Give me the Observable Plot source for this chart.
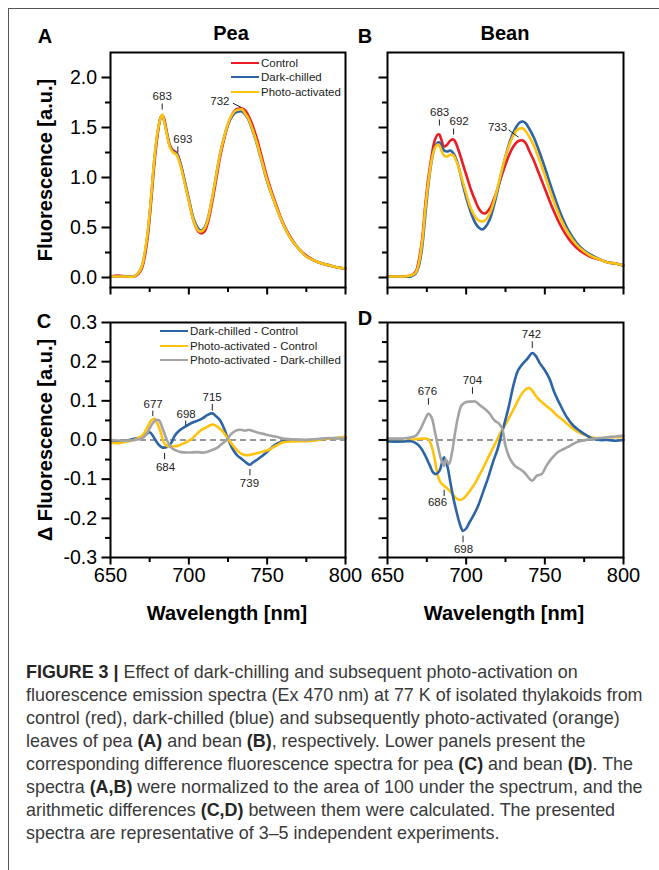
<!DOCTYPE html>
<html>
<head>
<meta charset="utf-8">
<script src="https://cdn.jsdelivr.net/npm/d3@7"></script>
<script src="https://cdn.jsdelivr.net/npm/@observablehq/plot@0.6"></script>
<style>
  html, body { margin: 0; padding: 0; background: #fff; }
  #fig { position: relative; width: 659px; height: 870px; overflow: hidden; font-family: 'Liberation Sans', Arial, Helvetica, sans-serif; color: #000; }
  .abs { position: absolute; white-space: nowrap; }
  .cap { position: absolute; left: 26px; font-size: 17.9px; color: #3a3a3a; white-space: nowrap; line-height: 23px; }
  .cap b { color: #262626; }
  .legline { position: absolute; width: 28px; height: 2.6px; }
  .legtxt { position: absolute; font-size: 11.5px; color: #222; white-space: nowrap; transform: translateY(-50%); }
  svg { overflow: visible; }
</style>
</head>
<body>
<div id="fig"></div>
<script>
// ---------- DATA ----------
const xMajor = [650, 700, 750, 800];
const xMinor = [675, 725, 775];
const yMajorAB = [0, 0.5, 1, 1.5, 2];
const yMinorAB = [0.25, 0.75, 1.25, 1.75];
const yMajorCD = [-0.3, -0.2, -0.1, 0, 0.1, 0.2, 0.3];
const yMinorCD = [-0.25, -0.15, -0.05, 0.05, 0.15, 0.25];

// wavelength grid for the raw spectra (A, B)
const wlAB = [650,655,660,665,668,670,672,674,676,678,680,682,683,684,686,688,690,692,693,695,698,700,703,706,708,710,712,715,718,720,722,725,728,730,732,734,736,738,740,743,746,750,755,760,765,770,775,780,785,790,795,800];

// Panel A - Pea
const peaControl = [0.01,0.02,0.01,0.01, 0.04,0.09,0.22,0.44,0.77,1.14,1.42,1.60, 1.62,1.60,1.45,1.32,1.27,1.25,1.22,1.12, 0.91,0.77,0.57,0.46,0.44,0.46,0.54,0.76, 1.03,1.21,1.35,1.53,1.64,1.68,1.69,1.69, 1.67,1.62,1.55,1.41,1.24,1.00,0.76,0.55, 0.40,0.29,0.22,0.17,0.14,0.12,0.10,0.09];
const peaDarkChilled = [0.01,0.01,0.01,0.01, 0.05,0.11,0.25,0.48,0.81,1.18,1.44,1.60, 1.62,1.58,1.44,1.31,1.26,1.24,1.22,1.12, 0.92,0.79,0.59,0.49,0.47,0.50,0.58,0.80, 1.07,1.24,1.37,1.53,1.62,1.65,1.66,1.66, 1.63,1.58,1.50,1.36,1.19,0.96,0.74,0.54, 0.39,0.29,0.21,0.17,0.14,0.12,0.10,0.09];
const peaPhotoActivated = [0.01,0.01,0.01,0.01, 0.05,0.11,0.26,0.49,0.82,1.19,1.45,1.60, 1.63,1.58,1.43,1.30,1.25,1.23,1.20,1.10, 0.90,0.77,0.57,0.47,0.46,0.49,0.57,0.80, 1.07,1.24,1.37,1.54,1.64,1.67,1.68,1.68, 1.64,1.59,1.51,1.37,1.20,0.97,0.74,0.54, 0.39,0.29,0.21,0.17,0.14,0.12,0.10,0.09];

// Panel B - Bean
const beanControl = [0.01,0.01,0.01,0.02, 0.06,0.18,0.38,0.72,1.00,1.21,1.37,1.43, 1.43,1.39,1.31,1.33,1.37,1.38,1.36,1.28, 1.13,1.03,0.88,0.76,0.69,0.65,0.64,0.69, 0.80,0.89,0.99,1.13,1.25,1.31,1.35,1.37, 1.37,1.34,1.27,1.17,1.05,0.89,0.69,0.52, 0.39,0.30,0.24,0.20,0.18,0.15,0.14,0.12];
const beanDarkChilled = [0.01,0.01,0.01,0.01, 0.04,0.12,0.30,0.62,0.93,1.16,1.30,1.35, 1.35,1.33,1.27,1.26,1.27,1.24,1.21,1.12, 0.92,0.80,0.65,0.54,0.50,0.48,0.50,0.58, 0.74,0.87,1.01,1.21,1.37,1.45,1.51,1.55, 1.56,1.54,1.49,1.40,1.28,1.10,0.86,0.64, 0.47,0.35,0.27,0.22,0.18,0.15,0.14,0.12];
const beanPhotoActivated = [0.01,0.01,0.01,0.02, 0.05,0.15,0.35,0.68,0.96,1.17,1.29,1.33, 1.32,1.28,1.22,1.21,1.23,1.22,1.19,1.11, 0.95,0.84,0.69,0.60,0.57,0.56,0.57,0.64, 0.78,0.90,1.03,1.21,1.35,1.42,1.47,1.49, 1.49,1.46,1.41,1.32,1.20,1.02,0.79,0.59, 0.44,0.33,0.26,0.21,0.18,0.15,0.14,0.12];

// Panel C - Pea difference spectra
const peaDiffDC_nm = [650,660,665,670,673,675,677,679,681,683,685,687,689,691,694,698,702,706,709,712,715,717,720,723,725,728,731,734,737,739,741,744,747,750,753,756,760,765,770,775,780,785,790,795,800];
const peaDiffDC = [-0.004,-0.002,0.003,0.007,0.015,0.02,0.011,-0.002,-0.013,-0.019,-0.019,-0.015,-0.006,0.011,0.024,0.035,0.044,0.05,0.056,0.064,0.068,0.062,0.05,0.024,0.003,-0.023,-0.04,-0.049,-0.059,-0.063,-0.057,-0.049,-0.04,-0.03,-0.019,-0.01,-0.003,0,0,0,0,0.002,0.004,0.005,0.006];
const peaDiffPC_nm = [650,655,660,665,670,673,676,678,680,682,684,686,688,690,693,696,699,702,705,708,711,714,716,719,722,725,728,731,734,737,740,744,748,752,756,760,765,770,775,780,785,790,795,800];
const peaDiffPC = [-0.007,-0.008,-0.004,0,0.01,0.028,0.05,0.054,0.041,0.02,-0.006,-0.015,-0.017,-0.016,-0.015,-0.01,-0.004,0.003,0.015,0.026,0.032,0.038,0.039,0.032,0.02,0.003,-0.013,-0.027,-0.036,-0.039,-0.037,-0.033,-0.029,-0.023,-0.014,-0.006,-0.004,-0.003,-0.003,-0.002,0.002,0.004,0.005,0.009];
const peaDiffPD_nm = [650,660,665,670,673,676,679,681,683,685,687,689,692,695,700,705,710,714,718,721,724,727,730,733,736,738,740,743,746,750,755,760,765,770,775,780,785,790,795,800];
const peaDiffPD = [0,-0.002,0,0.004,0.015,0.037,0.051,0.05,0.032,0.01,-0.008,-0.02,-0.027,-0.031,-0.032,-0.031,-0.032,-0.027,-0.02,-0.01,0,0.015,0.024,0.026,0.024,0.026,0.024,0.02,0.017,0.013,0.009,0.004,0.002,0.001,0,0.002,0.004,0.005,0.004,0.004];

// Panel D - Bean difference spectra
const beanDiffDC_nm = [650,660,665,668,671,674,677,679,681,683,685,686,688,690,692,694,696,698,700,702,705,708,711,714,717,720,722,724,727,730,733,736,739,742,744,747,750,753,756,760,764,768,772,776,780,785,790,795,800];
const beanDiffDC = [-0.004,-0.004,-0.003,-0.008,-0.019,-0.04,-0.066,-0.083,-0.087,-0.079,-0.053,-0.044,-0.066,-0.109,-0.151,-0.185,-0.215,-0.232,-0.226,-0.211,-0.19,-0.164,-0.13,-0.096,-0.057,-0.023,0.007,0.037,0.084,0.139,0.178,0.195,0.208,0.222,0.216,0.195,0.178,0.156,0.122,0.088,0.058,0.037,0.024,0.013,0.004,0,0,-0.002,0];
const beanDiffPC_nm = [650,660,665,670,673,676,678,680,682,684,686,688,690,692,694,696,698,700,703,706,709,712,715,718,720,722,725,728,731,734,737,740,742,745,748,751,754,758,762,766,770,774,778,782,786,790,795,800];
const beanDiffPC = [-0.002,-0.003,0,0.003,0.004,0.002,-0.015,-0.049,-0.091,-0.11,-0.117,-0.124,-0.132,-0.141,-0.15,-0.153,-0.15,-0.142,-0.126,-0.108,-0.085,-0.062,-0.036,-0.013,0.003,0.02,0.04,0.062,0.085,0.109,0.126,0.133,0.126,0.109,0.097,0.087,0.077,0.062,0.049,0.035,0.023,0.015,0.009,0.005,0.004,0.007,0.007,0.007];
const beanDiffPD_nm = [650,660,665,668,671,674,676,678,680,682,684,686,687,689,691,693,695,697,700,703,706,709,712,715,718,721,723,725,728,731,734,737,740,742,745,748,751,754,758,762,766,770,775,780,785,790,795,800];
const beanDiffPD = [0.004,0.004,0.007,0.011,0.028,0.054,0.067,0.058,0.024,-0.015,-0.049,-0.066,-0.049,-0.062,-0.032,0.02,0.062,0.088,0.097,0.098,0.098,0.088,0.079,0.067,0.05,0.041,0.028,-0.015,-0.049,-0.066,-0.074,-0.083,-0.098,-0.104,-0.091,-0.087,-0.066,-0.049,-0.032,-0.023,-0.015,-0.006,-0.001,0.003,0.005,0.007,0.009,0.011];

// Peak annotations: label, label anchor (tx, ty), leader (x1,y1)-(x2,y2), in data units
const annA = [
  {label: "683", tx: 683, ty: 1.81, x1: 683, y1: 1.68, x2: 683, y2: 1.74},
  {label: "693", tx: 696.2, ty: 1.38, x1: 693, y1: 1.25, x2: 693, y2: 1.31},
  {label: "732", tx: 719.8, ty: 1.76, x1: 728.1, y1: 1.743, x2: 733.2, y2: 1.703}
];
const annB = [
  {label: "683", tx: 683.1, ty: 1.65, x1: 683, y1: 1.52, x2: 683, y2: 1.58},
  {label: "692", tx: 695.5, ty: 1.557, x1: 692, y1: 1.43, x2: 692, y2: 1.49},
  {label: "733", tx: 719.9, ty: 1.50, x1: 726.9, y1: 1.477, x2: 733.3, y2: 1.403}
];
const annC = [
  {label: "677", tx: 677.2, ty: 0.0906, x1: 677, y1: 0.061, x2: 677, y2: 0.075},
  {label: "684", tx: 685.1, ty: -0.070, x1: 684.5, y1: -0.033, x2: 684.5, y2: -0.049},
  {label: "698", tx: 698.3, ty: 0.065, x1: 698, y1: 0.037, x2: 698, y2: 0.0496},
  {label: "715", tx: 714.9, ty: 0.109, x1: 715, y1: 0.075, x2: 715, y2: 0.092},
  {label: "739", tx: 738.7, ty: -0.111, x1: 739, y1: -0.074, x2: 739, y2: -0.090}
];
const annD = [
  {label: "742", tx: 741.5, ty: 0.270, x1: 742, y1: 0.235, x2: 742, y2: 0.252},
  {label: "704", tx: 704.0, ty: 0.152, x1: 704, y1: 0.118, x2: 704, y2: 0.135},
  {label: "676", tx: 675.4, ty: 0.124, x1: 676, y1: 0.090, x2: 676, y2: 0.107},
  {label: "686", tx: 681.8, ty: -0.160, x1: 686, y1: -0.127, x2: 686, y2: -0.143},
  {label: "698", tx: 698.3, ty: -0.279, x1: 698, y1: -0.244, x2: 698, y2: -0.261}
];

const legendAB = ["Control", "Dark-chilled", "Photo-activated"];
const legendCD = ["Dark-chilled - Control", "Photo-activated - Control", "Photo-activated - Dark-chilled"];

const RED = "#ec1c24", BLUE = "#2d64a6", YEL = "#ffc20e", GRAY = "#a3a3a3";
const FONT = "'Liberation Sans', Arial, Helvetica, sans-serif";

(function build() {
  const fig = document.getElementById("fig");
  const toRows = (nm, v) => nm.map((x, i) => ({nm: x, v: v[i]}));

  function makePanel(cfg) {
    const svg = Plot.plot({
      width: cfg.ml + cfg.w + cfg.mr,
      height: cfg.mt + cfg.h + cfg.mb,
      marginLeft: cfg.ml, marginRight: cfg.mr, marginTop: cfg.mt, marginBottom: cfg.mb,
      style: {fontFamily: FONT, color: "#000", background: "transparent", overflow: "visible"},
      x: {domain: [650, 800]},
      y: {domain: cfg.yDomain},
      marks: [
        cfg.zero ? Plot.ruleY([0], {stroke: "#333", strokeWidth: 1.2, strokeDasharray: "6,4"}) : null,
        ...cfg.lines.map(l => Plot.line(toRows(l.nm, l.v), {x: "nm", y: "v", stroke: l.color, strokeWidth: 2.6, curve: "catmull-rom"})),
        Plot.link(cfg.ann, {x1: "x1", y1: "y1", x2: "x2", y2: "y2", stroke: "#222", strokeWidth: 1}),
        Plot.text(cfg.ann, {x: "tx", y: "ty", text: "label", fontSize: 11.5, fill: "#222"}),
        Plot.axisX({ticks: xMajor, tickSize: 7.5, tickPadding: 3, tickFormat: cfg.xLabels ? (d => String(d)) : (() => ""), fontSize: 20, strokeWidth: 2, label: null}),
        Plot.axisX({ticks: xMinor, tickSize: 5, tickFormat: () => "", strokeWidth: 2, label: null}),
        Plot.axisY({ticks: cfg.yMajor, tickSize: 8.5, tickPadding: 5, tickFormat: cfg.yLabels ? (d => (+d).toFixed(1)) : (() => ""), fontSize: 19.5, strokeWidth: 2, label: null}),
        Plot.axisY({ticks: cfg.yMinor, tickSize: 5, tickFormat: () => "", strokeWidth: 2, label: null}),
        Plot.frame({stroke: "#000", strokeWidth: 2})
      ]
    });
    svg.style.position = "absolute";
    svg.style.left = cfg.left + "px";
    svg.style.top = cfg.top + "px";
    fig.appendChild(svg);
  }

  makePanel({left: 0, top: 0, ml: 110, mr: 6, mt: 52, mb: 14, w: 235, h: 235,
    yDomain: [-0.1, 2.25], yMajor: yMajorAB, yMinor: yMinorAB, yLabels: true, xLabels: false, zero: false,
    lines: [{nm: wlAB, v: peaControl, color: RED}, {nm: wlAB, v: peaDarkChilled, color: BLUE}, {nm: wlAB, v: peaPhotoActivated, color: YEL}],
    ann: annA});
  makePanel({left: 350, top: 0, ml: 37, mr: 10, mt: 52, mb: 14, w: 236, h: 235,
    yDomain: [-0.1, 2.25], yMajor: yMajorAB, yMinor: yMinorAB, yLabels: false, xLabels: false, zero: false,
    lines: [{nm: wlAB, v: beanControl, color: RED}, {nm: wlAB, v: beanDarkChilled, color: BLUE}, {nm: wlAB, v: beanPhotoActivated, color: YEL}],
    ann: annB});
  makePanel({left: 0, top: 300, ml: 110, mr: 6, mt: 22, mb: 40, w: 235, h: 235,
    yDomain: [-0.3, 0.3], yMajor: yMajorCD, yMinor: yMinorCD, yLabels: true, xLabels: true, zero: true,
    lines: [{nm: peaDiffDC_nm, v: peaDiffDC, color: BLUE}, {nm: peaDiffPC_nm, v: peaDiffPC, color: YEL}, {nm: peaDiffPD_nm, v: peaDiffPD, color: GRAY}],
    ann: annC});
  makePanel({left: 350, top: 300, ml: 37, mr: 10, mt: 22, mb: 40, w: 236, h: 235,
    yDomain: [-0.3, 0.3], yMajor: yMajorCD, yMinor: yMinorCD, yLabels: false, xLabels: true, zero: true,
    lines: [{nm: beanDiffPC_nm, v: beanDiffPC, color: YEL}, {nm: beanDiffDC_nm, v: beanDiffDC, color: BLUE}, {nm: beanDiffPD_nm, v: beanDiffPD, color: GRAY}],
    ann: annD});

  function addText(txt, x, y, css) {
    const d = document.createElement("div");
    d.className = "abs";
    d.textContent = txt;
    d.style.left = x + "px";
    d.style.top = y + "px";
    Object.assign(d.style, css || {});
    fig.appendChild(d);
    return d;
  }
  const boldC = {fontWeight: "bold", fontSize: "20px", transform: "translate(-50%, -50%)"};
  addText("A", 45, 36, boldC);
  addText("B", 365, 36, boldC);
  addText("C", 44, 321, boldC);
  addText("D", 365, 318, boldC);
  addText("Pea", 231, 33, boldC);
  addText("Bean", 505, 33, boldC);
  addText("Wavelength [nm]", 227, 613, boldC);
  addText("Wavelength [nm]", 504, 613, boldC);
  addText("Fluorescence [a.u.]", 45, 170, {fontWeight: "bold", fontSize: "20px", transform: "translate(-50%, -50%) rotate(-90deg)"});
  addText("\u0394 Fluorescence [a.u.]", 45, 440, {fontWeight: "bold", fontSize: "20px", transform: "translate(-50%, -50%) rotate(-90deg)"});

  function legend(labels, colors, x, ys) {
    labels.forEach((lab, i) => {
      const l = document.createElement("div");
      l.className = "legline";
      l.style.left = x + "px";
      l.style.top = (ys[i] - 1.3) + "px";
      l.style.background = colors[i];
      fig.appendChild(l);
      const t = document.createElement("div");
      t.className = "legtxt";
      t.textContent = lab;
      t.style.left = (x + 30) + "px";
      t.style.top = ys[i] + "px";
      fig.appendChild(t);
    });
  }
  legend(legendAB, [RED, BLUE, YEL], 231, [63, 77, 92]);
  legend(legendCD, [BLUE, YEL, GRAY], 160, [331, 346, 360]);

  const topBorder = document.createElement("div");
  Object.assign(topBorder.style, {position: "absolute", left: "8px", right: "0px", top: "8px", height: "1px", background: "#555"});
  fig.appendChild(topBorder);
  const leftBorder = document.createElement("div");
  Object.assign(leftBorder.style, {position: "absolute", left: "8px", top: "8px", bottom: "0px", width: "1px", background: "#555"});
  fig.appendChild(leftBorder);

  const capLines = [
    "<b>FIGURE 3 |</b> Effect of dark-chilling and subsequent photo-activation on",
    "fluorescence emission spectra (Ex 470 nm) at 77 K of isolated thylakoids from",
    "control (red), dark-chilled (blue) and subsequently photo-activated (orange)",
    "leaves of pea <b>(A)</b> and bean <b>(B)</b>, respectively. Lower panels present the",
    "corresponding difference fluorescence spectra for pea <b>(C)</b> and bean <b>(D)</b>. The",
    "spectra <b>(A,B)</b> were normalized to the area of 100 under the spectrum, and the",
    "arithmetic differences <b>(C,D)</b> between them were calculated. The presented",
    "spectra are representative of 3\u20135 independent experiments."
  ];
  capLines.forEach((h, i) => {
    const d = document.createElement("div");
    d.className = "cap";
    d.innerHTML = h;
    d.style.top = (661 + i * 23) + "px";
    fig.appendChild(d);
  });
})();
</script>
</body>
</html>
